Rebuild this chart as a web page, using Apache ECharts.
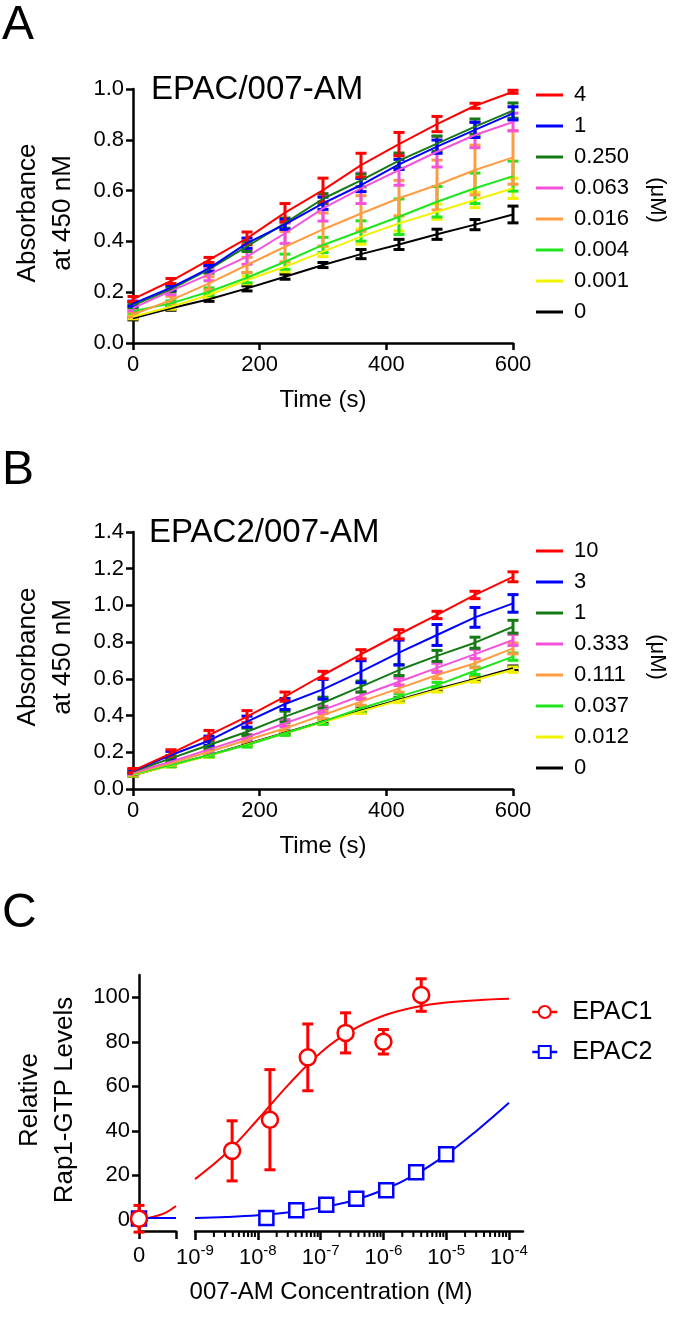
<!DOCTYPE html>
<html><head><meta charset="utf-8">
<script src="https://cdn.jsdelivr.net/npm/echarts@6/dist/echarts.min.js"></script>
<style>html,body{margin:0;padding:0;background:#fff}#c{width:675px;height:1321px}</style>
</head><body><div id="c"></div>
<script>
const FONT = '"Liberation Sans", Arial, Helvetica, sans-serif';

// ---------- Panel A / B shared ----------
const timePoints = [0, 60, 120, 180, 240, 300, 360, 420, 480, 540, 600];
const seriesColors = ['#ff0000', '#0000ff', '#157a15', '#f552dc', '#ff9b40', '#1ee61e', '#f2f200', '#000000'];

// ---------- Panel A: EPAC/007-AM ----------
const aLabels = ['4', '1', '0.250', '0.063', '0.016', '0.004', '0.001', '0'];
const a4 = [0.173, 0.244, 0.327, 0.412, 0.513, 0.602, 0.700, 0.783, 0.862, 0.934, 0.989];
const a4Err = [0.010, 0.010, 0.010, 0.025, 0.036, 0.047, 0.047, 0.046, 0.030, 0.010, 0.006];
const a1 = [0.155, 0.218, 0.294, 0.393, 0.467, 0.550, 0.622, 0.703, 0.773, 0.839, 0.904];
const a1Err = [0.010, 0.010, 0.012, 0.020, 0.020, 0.024, 0.026, 0.020, 0.026, 0.030, 0.026];
const a025 = [0.148, 0.212, 0.290, 0.380, 0.472, 0.568, 0.640, 0.718, 0.785, 0.852, 0.915];
const a025Err = [0.008, 0.010, 0.015, 0.020, 0.020, 0.020, 0.025, 0.030, 0.030, 0.030, 0.030];
const a0063 = [0.137, 0.205, 0.270, 0.340, 0.432, 0.530, 0.609, 0.681, 0.753, 0.819, 0.870];
const a0063Err = [0.010, 0.015, 0.025, 0.030, 0.040, 0.050, 0.060, 0.060, 0.060, 0.050, 0.035];
const a0016 = [0.112, 0.169, 0.235, 0.307, 0.379, 0.447, 0.510, 0.570, 0.622, 0.681, 0.731];
const a0016Err = [0.010, 0.015, 0.026, 0.030, 0.060, 0.065, 0.070, 0.070, 0.098, 0.098, 0.106];
const a0004 = [0.125, 0.156, 0.202, 0.257, 0.320, 0.386, 0.441, 0.497, 0.556, 0.609, 0.657];
const a0004Err = [0.008, 0.010, 0.015, 0.020, 0.030, 0.030, 0.040, 0.070, 0.060, 0.060, 0.059];
const a0001 = [0.103, 0.143, 0.189, 0.248, 0.300, 0.360, 0.419, 0.471, 0.517, 0.563, 0.609];
const a0001Err = [0.008, 0.010, 0.012, 0.015, 0.020, 0.020, 0.030, 0.030, 0.030, 0.030, 0.040];
const a0 = [0.097, 0.137, 0.172, 0.215, 0.261, 0.307, 0.350, 0.388, 0.428, 0.466, 0.506];
const a0Err = [0.006, 0.008, 0.008, 0.010, 0.010, 0.010, 0.018, 0.020, 0.020, 0.020, 0.033];

// ---------- Panel B: EPAC2/007-AM ----------
const bLabels = ['10', '3', '1', '0.333', '0.111', '0.037', '0.012', '0'];
const b10 = [0.100, 0.194, 0.294, 0.394, 0.503, 0.621, 0.734, 0.843, 0.948, 1.057, 1.156];
const b10Err = [0.012, 0.020, 0.025, 0.033, 0.025, 0.020, 0.025, 0.025, 0.020, 0.020, 0.027];
const b3 = [0.098, 0.185, 0.263, 0.367, 0.463, 0.543, 0.639, 0.743, 0.839, 0.935, 1.011];
const b3Err = [0.010, 0.020, 0.025, 0.030, 0.030, 0.054, 0.060, 0.068, 0.057, 0.054, 0.048];
const b1 = [0.095, 0.167, 0.240, 0.312, 0.394, 0.470, 0.558, 0.648, 0.725, 0.797, 0.884];
const b1Err = [0.008, 0.015, 0.020, 0.020, 0.030, 0.030, 0.030, 0.030, 0.030, 0.030, 0.035];
const b0333 = [0.090, 0.149, 0.216, 0.282, 0.358, 0.431, 0.508, 0.584, 0.660, 0.735, 0.812];
const b0333Err = [0.008, 0.012, 0.015, 0.015, 0.020, 0.020, 0.020, 0.020, 0.025, 0.025, 0.030];
const b0111 = [0.085, 0.140, 0.203, 0.267, 0.330, 0.403, 0.476, 0.548, 0.621, 0.685, 0.766];
const b0111Err = [0.008, 0.010, 0.012, 0.015, 0.015, 0.020, 0.020, 0.020, 0.020, 0.025, 0.030];
const b0037 = [0.082, 0.131, 0.185, 0.240, 0.304, 0.367, 0.440, 0.503, 0.566, 0.644, 0.721];
const b0037Err = [0.006, 0.010, 0.010, 0.012, 0.012, 0.015, 0.015, 0.015, 0.015, 0.020, 0.020];
const b0012 = [0.076, 0.128, 0.182, 0.242, 0.304, 0.364, 0.423, 0.482, 0.540, 0.594, 0.650];
const b0012Err = [0.006, 0.008, 0.010, 0.010, 0.010, 0.012, 0.012, 0.012, 0.012, 0.012, 0.015];
const b0 = [0.075, 0.130, 0.184, 0.245, 0.307, 0.368, 0.428, 0.487, 0.545, 0.600, 0.658];
const b0Err = [0.006, 0.008, 0.008, 0.010, 0.010, 0.010, 0.010, 0.010, 0.010, 0.010, 0.012];

// ---------- Panel C: Rap1-GTP levels ----------
const epac1Conc = [3.9e-9, 1.56e-8, 6.25e-8, 2.5e-7, 1e-6, 4e-6];
const epac1Mean = [31, 45, 73, 84, 80, 101];
const epac1Err = [13.5, 22.5, 15, 9, 5.5, 7.3];
const epac2Conc = [1.37e-8, 4.1e-8, 1.23e-7, 3.7e-7, 1.11e-6, 3.33e-6, 1e-5];
const epac2Mean = [0.8, 4.3, 6.8, 9.5, 13.3, 21.4, 29.5];
const epac2Err = [1.5, 1.5, 1.5, 1.5, 1.5, 2, 2];
const zeroConcMean = [0.5, 0.6];   // EPAC1, EPAC2 at 0 M
const zeroConcErr = [6, 2.5];
const fitLogConc = [-9, -8.5, -8, -7.5, -7, -6.5, -6, -5.5, -5, -4.5, -4];
const epac1Fit = [18.3, 30.0, 45.1, 61.1, 75.1, 85.2, 91.7, 95.5, 97.6, 98.7, 99.3];
const epac2Fit = [0.8, 1.3, 2.1, 3.4, 5.5, 8.6, 13.4, 20.2, 29.3, 40.4, 52.6];
const zeroSegX = [0, 0.25, 0.5, 0.75, 1];
const epac1ZeroFit = [0.3, 0.9, 1.9, 3.5, 6.2];
const epac2ZeroFit = [0.8, 0.8, 0.8, 0.8, 0.8];
const cYTicks = [0, 20, 40, 60, 80, 100];
const cLogTicks = [-9, -8, -7, -6, -5, -4];
const cMinorMultipliers = [2, 3, 4, 5, 6, 7, 8, 9];

// ---------- helpers ----------
function errRender(capW, lw) {
  return function (params, api) {
    const x = api.value(0), y = api.value(1), e = api.value(2);
    const hi = api.coord([x, y + e]), lo = api.coord([x, y - e]);
    const st = { stroke: api.visual('color'), lineWidth: lw, fill: null };
    return { type: 'group', children: [
      { type: 'line', shape: { x1: hi[0], y1: hi[1], x2: lo[0], y2: lo[1] }, style: st },
      { type: 'line', shape: { x1: hi[0] - capW / 2, y1: hi[1], x2: hi[0] + capW / 2, y2: hi[1] }, style: st },
      { type: 'line', shape: { x1: lo[0] - capW / 2, y1: lo[1], x2: lo[0] + capW / 2, y2: lo[1] }, style: st }
    ]};
  };
}
const axisLineStyle = { color: '#000', width: 2.5 };
const labelStyle = { color: '#000', fontSize: 22, fontFamily: FONT };
function valueAxis(extra) {
  return Object.assign({
    type: 'value', splitLine: { show: false },
    axisLine: { show: true, onZero: false, lineStyle: axisLineStyle },
    axisTick: { show: true, length: 7, lineStyle: { color: '#000', width: 2.5 } },
    axisLabel: Object.assign({}, labelStyle)
  }, extra);
}

const aMeans = [a4, a1, a025, a0063, a0016, a0004, a0001, a0];
const aErrs = [a4Err, a1Err, a025Err, a0063Err, a0016Err, a0004Err, a0001Err, a0Err];
const bMeans = [b10, b3, b1, b0333, b0111, b0037, b0012, b0];
const bErrs = [b10Err, b3Err, b1Err, b0333Err, b0111Err, b0037Err, b0012Err, b0Err];

const series = [];
function addKinetics(prefix, labels, means, errs, axisIdx) {
  for (let i = labels.length - 1; i >= 0; i--) {
    const name = prefix + '|' + labels[i];
    series.push({
      name, type: 'line', xAxisIndex: axisIdx, yAxisIndex: axisIdx,
      data: timePoints.map((t, j) => [t, means[i][j]]),
      symbol: 'none', color: seriesColors[i], lineStyle: { width: 2, color: seriesColors[i] },
      clip: false, silent: true
    });
    series.push({
      name, type: 'custom', xAxisIndex: axisIdx, yAxisIndex: axisIdx,
      data: timePoints.map((t, j) => [t, means[i][j], errs[i][j]]),
      encode: { x: 0, y: 1 }, color: seriesColors[i], itemStyle: { color: seriesColors[i] },
      renderItem: errRender(11, 3), clip: false, silent: true
    });
  }
}
addKinetics('A', aLabels, aMeans, aErrs, 0);
addKinetics('B', bLabels, bMeans, bErrs, 1);

// Panel C series
const RED = '#ff0000', BLUE = '#0000ff';
const redMark = { color: '#fff', borderColor: RED, borderWidth: 2.5, opacity: 1 };
const blueMark = { color: '#fff', borderColor: BLUE, borderWidth: 2.5, opacity: 1 };
series.push({ name: 'C|EPAC1', type: 'line', xAxisIndex: 3, yAxisIndex: 3,
  data: fitLogConc.map((x, i) => [x, epac1Fit[i]]), smooth: 0.4, symbol: 'circle', symbolSize: 15,
  showSymbol: false, lineStyle: { width: 2, color: RED }, itemStyle: redMark, clip: false, silent: true });
series.push({ name: 'C|EPAC2', type: 'line', xAxisIndex: 3, yAxisIndex: 3,
  data: fitLogConc.map((x, i) => [x, epac2Fit[i]]), smooth: 0.4, symbol: 'rect', symbolSize: 14,
  showSymbol: false, lineStyle: { width: 2, color: BLUE }, itemStyle: blueMark, clip: false, silent: true });
series.push({ name: 'C|EPAC1', type: 'line', xAxisIndex: 2, yAxisIndex: 2,
  data: zeroSegX.map((x, i) => [x, epac1ZeroFit[i]]), smooth: 0.4, symbol: 'none',
  lineStyle: { width: 2, color: RED }, clip: false, silent: true });
series.push({ name: 'C|EPAC2', type: 'line', xAxisIndex: 2, yAxisIndex: 2,
  data: zeroSegX.map((x, i) => [x, epac2ZeroFit[i]]), symbol: 'none',
  lineStyle: { width: 2, color: BLUE }, clip: false, silent: true });
// error bars
series.push({ name: 'C|EPAC2', type: 'custom', xAxisIndex: 3, yAxisIndex: 3,
  data: epac2Conc.map((c, i) => [Math.log10(c), epac2Mean[i], epac2Err[i]]), encode: { x: 0, y: 1 },
  color: BLUE, itemStyle: { color: BLUE }, renderItem: errRender(11, 3), clip: false, silent: true });
series.push({ name: 'C|EPAC1', type: 'custom', xAxisIndex: 3, yAxisIndex: 3,
  data: epac1Conc.map((c, i) => [Math.log10(c), epac1Mean[i], epac1Err[i]]), encode: { x: 0, y: 1 },
  color: RED, itemStyle: { color: RED }, renderItem: errRender(11, 3), clip: false, silent: true });
series.push({ name: 'C|EPAC2', type: 'custom', xAxisIndex: 2, yAxisIndex: 2,
  data: [[0, zeroConcMean[1], zeroConcErr[1]]], encode: { x: 0, y: 1 },
  color: BLUE, itemStyle: { color: BLUE }, renderItem: errRender(11, 3), clip: false, silent: true });
series.push({ name: 'C|EPAC1', type: 'custom', xAxisIndex: 2, yAxisIndex: 2,
  data: [[0, zeroConcMean[0], zeroConcErr[0]]], encode: { x: 0, y: 1 },
  color: RED, itemStyle: { color: RED }, renderItem: errRender(11, 3), clip: false, silent: true });
// markers
series.push({ name: 'C|EPAC2', type: 'scatter', xAxisIndex: 3, yAxisIndex: 3,
  data: epac2Conc.map((c, i) => [Math.log10(c), epac2Mean[i]]), symbol: 'rect', symbolSize: 14,
  itemStyle: blueMark, clip: false, silent: true, z: 5 });
series.push({ name: 'C|EPAC1', type: 'scatter', xAxisIndex: 3, yAxisIndex: 3,
  data: epac1Conc.map((c, i) => [Math.log10(c), epac1Mean[i]]), symbol: 'circle', symbolSize: 16,
  itemStyle: redMark, clip: false, silent: true, z: 5 });
series.push({ name: 'C|EPAC2', type: 'scatter', xAxisIndex: 2, yAxisIndex: 2,
  data: [[0, zeroConcMean[1]]], symbol: 'rect', symbolSize: 14,
  itemStyle: blueMark, clip: false, silent: true, z: 5 });
series.push({ name: 'C|EPAC1', type: 'scatter', xAxisIndex: 2, yAxisIndex: 2,
  data: [[0, zeroConcMean[0]]], symbol: 'circle', symbolSize: 16,
  itemStyle: redMark, clip: false, silent: true, z: 5 });

// minor (log) ticks of the concentration axis, placed through the axis scale
const minorTicks = [];
cLogTicks.slice(0, -1).forEach(p => cMinorMultipliers.forEach(m => minorTicks.push(p + Math.log10(m))));
const C_Y_MIN = -5;
series.push({ name: 'minorTicks', type: 'custom', xAxisIndex: 3, yAxisIndex: 3,
  data: minorTicks.map(v => [v, C_Y_MIN]), encode: { x: 0, y: 1 }, clip: false, silent: true, z: 10,
  renderItem: (params, api) => {
    const p = api.coord([api.value(0), api.value(1)]);
    return { type: 'line', shape: { x1: p[0], y1: p[1], x2: p[0], y2: p[1] + 6 },
      style: { stroke: '#000', lineWidth: 2, fill: null } };
  } });

const legendBase = {
  orient: 'vertical', icon: 'rect', itemWidth: 27, itemHeight: 3, itemGap: 9,
  selectedMode: false, formatter: n => n.split('|')[1],
  textStyle: { color: '#000', fontSize: 22, fontFamily: FONT, lineHeight: 22, padding: [0, 0, 0, 6] }
};

const option = {
  animation: false,
  backgroundColor: '#fff',
  grid: [
    { left: 133, top: 89, width: 380, height: 254, outerBoundsMode: 'none' },
    { left: 133, top: 532, width: 380, height: 257, outerBoundsMode: 'none' },
    { left: 139, top: 975, width: 37, height: 256, outerBoundsMode: 'none' },
    { left: 195, top: 975, width: 328, height: 256, outerBoundsMode: 'none' }
  ],
  xAxis: [
    valueAxis({ gridIndex: 0, position: 'bottom', min: 0, max: 600, interval: 200, axisLabel: Object.assign({ margin: 11 }, labelStyle) }),
    valueAxis({ gridIndex: 1, position: 'bottom', min: 0, max: 600, interval: 200, axisLabel: Object.assign({ margin: 11 }, labelStyle) }),
    valueAxis({ gridIndex: 2, position: 'bottom', min: 0, max: 1,
      axisTick: { show: true, length: 8, customValues: [0, 1], lineStyle: { color: '#000', width: 2.5 } },
      axisLabel: Object.assign({ margin: 14, customValues: [0], formatter: () => '0' }, labelStyle) }),
    valueAxis({ gridIndex: 3, position: 'bottom', min: -9, max: -3.777,
      axisTick: { show: true, length: 9, customValues: cLogTicks, lineStyle: { color: '#000', width: 2.5 } },
      axisLabel: Object.assign({ margin: 12, customValues: cLogTicks, formatter: v => '10{s|' + v + '}',
        rich: { s: { fontSize: 15, fontFamily: FONT, color: '#000', verticalAlign: 'top', lineHeight: 30 } } }, labelStyle) })
  ],
  yAxis: [
    valueAxis({ gridIndex: 0, position: 'left', min: 0, max: 1.0, interval: 0.2,
      axisLabel: Object.assign({ margin: 9, formatter: v => v.toFixed(1) }, labelStyle) }),
    valueAxis({ gridIndex: 1, position: 'left', min: 0, max: 1.4, interval: 0.2,
      axisLabel: Object.assign({ margin: 9, formatter: v => v.toFixed(1) }, labelStyle) }),
    valueAxis({ gridIndex: 2, position: 'left', min: C_Y_MIN, max: 110,
      axisTick: { show: true, length: 7, customValues: cYTicks, lineStyle: { color: '#000', width: 2.5 } },
      axisLabel: Object.assign({ margin: 9, customValues: cYTicks }, labelStyle) }),
    valueAxis({ gridIndex: 3, position: 'left', min: C_Y_MIN, max: 110, show: false })
  ],
  legend: [
    Object.assign({}, legendBase, { left: 531, top: 79, data: aLabels.map(l => 'A|' + l) }),
    Object.assign({}, legendBase, { left: 531, top: 535, data: bLabels.map(l => 'B|' + l) }),
    { orient: 'vertical', left: 526, top: 992, itemWidth: 25, itemHeight: 15, itemGap: 10,
      selectedMode: false, formatter: n => n.split('|')[1],
      lineStyle: { width: 2.5 },
      textStyle: { color: '#000', fontSize: 25, fontFamily: FONT, lineHeight: 30, padding: [0, 0, 0, 10] },
      data: ['C|EPAC1', 'C|EPAC2'] }
  ],
  graphic: [
    { type: 'text', x: 2, y: 2, style: { text: 'A', fontSize: 48, fontFamily: FONT, fill: '#000' } },
    { type: 'text', x: 2, y: 447, style: { text: 'B', fontSize: 48, fontFamily: FONT, fill: '#000' } },
    { type: 'text', x: 2, y: 890, style: { text: 'C', fontSize: 48, fontFamily: FONT, fill: '#000' } },
    { type: 'text', x: 151, y: 90, style: { text: 'EPAC/007-AM', fontSize: 33, fontFamily: FONT, fill: '#000', verticalAlign: 'middle' } },
    { type: 'text', x: 149, y: 533, style: { text: 'EPAC2/007-AM', fontSize: 33, fontFamily: FONT, fill: '#000', verticalAlign: 'middle' } },
    { type: 'text', x: 45, y: 213, rotation: Math.PI / 2, style: { text: 'Absorbance\nat 450 nM', fontSize: 26, lineHeight: 35, fontFamily: FONT, fill: '#000', align: 'center', verticalAlign: 'middle' } },
    { type: 'text', x: 45, y: 657, rotation: Math.PI / 2, style: { text: 'Absorbance\nat 450 nM', fontSize: 26, lineHeight: 35, fontFamily: FONT, fill: '#000', align: 'center', verticalAlign: 'middle' } },
    { type: 'text', x: 47, y: 1100, rotation: Math.PI / 2, style: { text: 'Relative\nRap1-GTP Levels', fontSize: 26, lineHeight: 35, fontFamily: FONT, fill: '#000', align: 'center', verticalAlign: 'middle' } },
    { type: 'text', x: 323, y: 400, style: { text: 'Time (s)', fontSize: 24, fontFamily: FONT, fill: '#000', align: 'center', verticalAlign: 'middle' } },
    { type: 'text', x: 323, y: 846, style: { text: 'Time (s)', fontSize: 24, fontFamily: FONT, fill: '#000', align: 'center', verticalAlign: 'middle' } },
    { type: 'text', x: 331, y: 1292, style: { text: '007-AM Concentration (M)', fontSize: 24, fontFamily: FONT, fill: '#000', align: 'center', verticalAlign: 'middle' } },
    { type: 'text', x: 657, y: 200, rotation: -Math.PI / 2, style: { text: '(μM)', fontSize: 22, fontFamily: FONT, fill: '#000', align: 'center', verticalAlign: 'middle' } },
    { type: 'text', x: 657, y: 657, rotation: -Math.PI / 2, style: { text: '(μM)', fontSize: 22, fontFamily: FONT, fill: '#000', align: 'center', verticalAlign: 'middle' } }
  ],
  series
};
const chart = echarts.init(document.getElementById('c'), null, { renderer: 'canvas' });
chart.setOption(option);
</script>
</body></html>
